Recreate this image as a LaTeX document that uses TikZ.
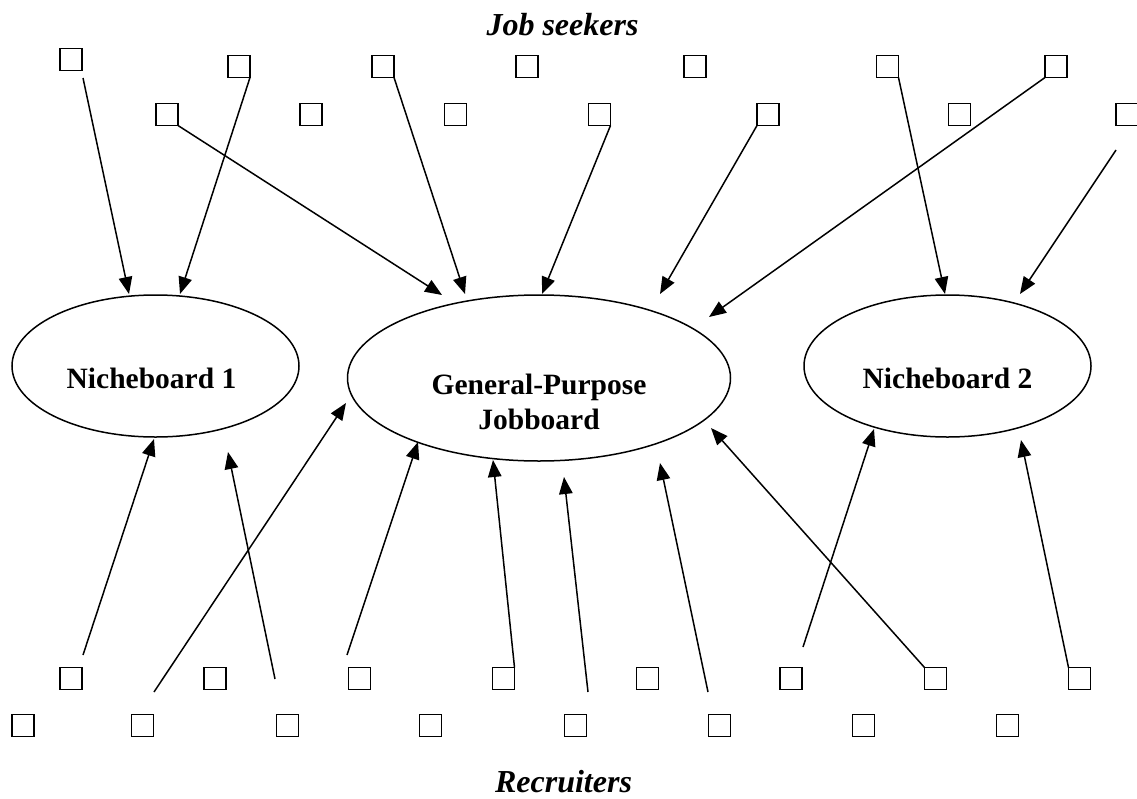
\documentclass[tikz,border=0pt]{standalone}
\usepackage{fontspec}
\setmainfont{Liberation Serif}
\usetikzlibrary{arrows.meta,shapes.geometric}
\begin{document}
\begin{tikzpicture}[x=1pt,y=-1pt,
  box/.style={draw, line width=1.8pt, minimum size=22pt, inner sep=0pt, outer sep=0pt},
  board/.style={draw, ellipse, line width=1.5pt, inner sep=0pt, outer sep=0pt},
  conn/.style={line width=1.5pt, -{Triangle[length=17pt,width=13.5pt]}},
  lbl/.style={font=\fontsize{29.5}{35}\selectfont\bfseries, anchor=base, inner sep=0pt},
  ttl/.style={font=\fontsize{32}{38}\selectfont\bfseries\itshape, anchor=base, inner sep=0pt}]
\useasboundingbox (0,0) rectangle (1137,798);

% titles
\node[ttl] (seekers) at (562.5,35) {Job seekers};
\node[ttl] (recruiters) at (563.5,792) {Recruiters};

% boards
\node[board, minimum width=287pt, minimum height=142pt] (nb1) at (155.5,366) {};
\node[board, minimum width=383pt, minimum height=166pt] (gp) at (539,378) {};
\node[board, minimum width=287pt, minimum height=142pt] (nb2) at (947.5,366) {};
\node[lbl] (nb1t) at (151.5,388) {Nicheboard 1};
\node[lbl] (gpt1) at (539,394) {General-Purpose};
\node[lbl] (gpt2) at (539,429) {Jobboard};
\node[lbl] (nb2t) at (947.5,388) {Nicheboard 2};

% job seekers, row 1
\node[box] (t1) at (71,59.5) {};
\node[box] (t2) at (239,66.5) {};
\node[box] (t3) at (383,66.5) {};
\node[box] (t4) at (527,66.5) {};
\node[box] (t5) at (695,66.5) {};
\node[box] (t6) at (887.5,66.5) {};
\node[box] (t7) at (1056,66.5) {};
% job seekers, row 2
\node[box] (u1) at (167,114.5) {};
\node[box] (u2) at (311,114.5) {};
\node[box] (u3) at (455.5,114.5) {};
\node[box] (u4) at (599.5,114.5) {};
\node[box] (u5) at (768,114.5) {};
\node[box] (u6) at (959.5,114.5) {};
\node[box] (u7) at (1127,114.5) {};

% recruiters, row A
\node[box] (p1) at (71,678.5) {};
\node[box] (p2) at (215,678.5) {};
\node[box] (p3) at (359.5,678.5) {};
\node[box] (p4) at (503.5,678.5) {};
\node[box] (p5) at (647.5,678.5) {};
\node[box] (p6) at (791,678.5) {};
\node[box] (p7) at (935.5,678.5) {};
\node[box] (p8) at (1079.5,678.5) {};
% recruiters, row B
\node[box] (q1) at (23,725.5) {};
\node[box] (q2) at (142.5,725.5) {};
\node[box] (q3) at (287.5,725.5) {};
\node[box] (q4) at (430.5,725.5) {};
\node[box] (q5) at (575.5,725.5) {};
\node[box] (q6) at (719.5,725.5) {};
\node[box] (q7) at (863.5,725.5) {};
\node[box] (q8) at (1007.5,725.5) {};

% free ends
\coordinate (s1) at (83,78);
\coordinate (s9) at (1116,150);
\coordinate (ra) at (83,655);
\coordinate (rb) at (275,679);
\coordinate (rc) at (154,692);
\coordinate (rd) at (347,655);
\coordinate (rf) at (588,692);
\coordinate (rg) at (708,692);
\coordinate (ri) at (803,647);

\coordinate (e1) at (129,294);
\coordinate (e2) at (180,294);
\coordinate (e3) at (442,295);
\coordinate (e4) at (465,294);
\coordinate (e5) at (542,294);
\coordinate (e6) at (660,294);
\coordinate (e7) at (709,317);
\coordinate (e8) at (945,294);
\coordinate (e9) at (1020,294);

\coordinate (fa) at (154,439);
\coordinate (fb) at (228,452);
\coordinate (fc) at (346,403);
\coordinate (fd) at (418,442);
\coordinate (fe) at (493,460);
\coordinate (ff) at (564,477);
\coordinate (fg) at (660,463);
\coordinate (fh) at (711,428);
\coordinate (fi) at (874,429);
\coordinate (fj) at (1021,440);

% job seekers to boards
\draw[conn] (s1) -- (e1);
\draw[conn] (t2.south east) -- (e2);
\draw[conn] (u1.south east) -- (e3);
\draw[conn] (t3.south east) -- (e4);
\draw[conn] (u4.south east) -- (e5);
\draw[conn] (u5.south west) -- (e6);
\draw[conn] (t7.south west) -- (e7);
\draw[conn] (t6.south east) -- (e8);
\draw[conn] (s9) -- (e9);

% recruiters to boards
\draw[conn] (ra) -- (fa);
\draw[conn] (rb) -- (fb);
\draw[conn] (rc) -- (fc);
\draw[conn] (rd) -- (fd);
\draw[conn] (p4.north east) -- (fe);
\draw[conn] (rf) -- (ff);
\draw[conn] (rg) -- (fg);
\draw[conn] (p7.north west) -- (fh);
\draw[conn] (ri) -- (fi);
\draw[conn] (p8.north west) -- (fj);
\end{tikzpicture}
\end{document}
